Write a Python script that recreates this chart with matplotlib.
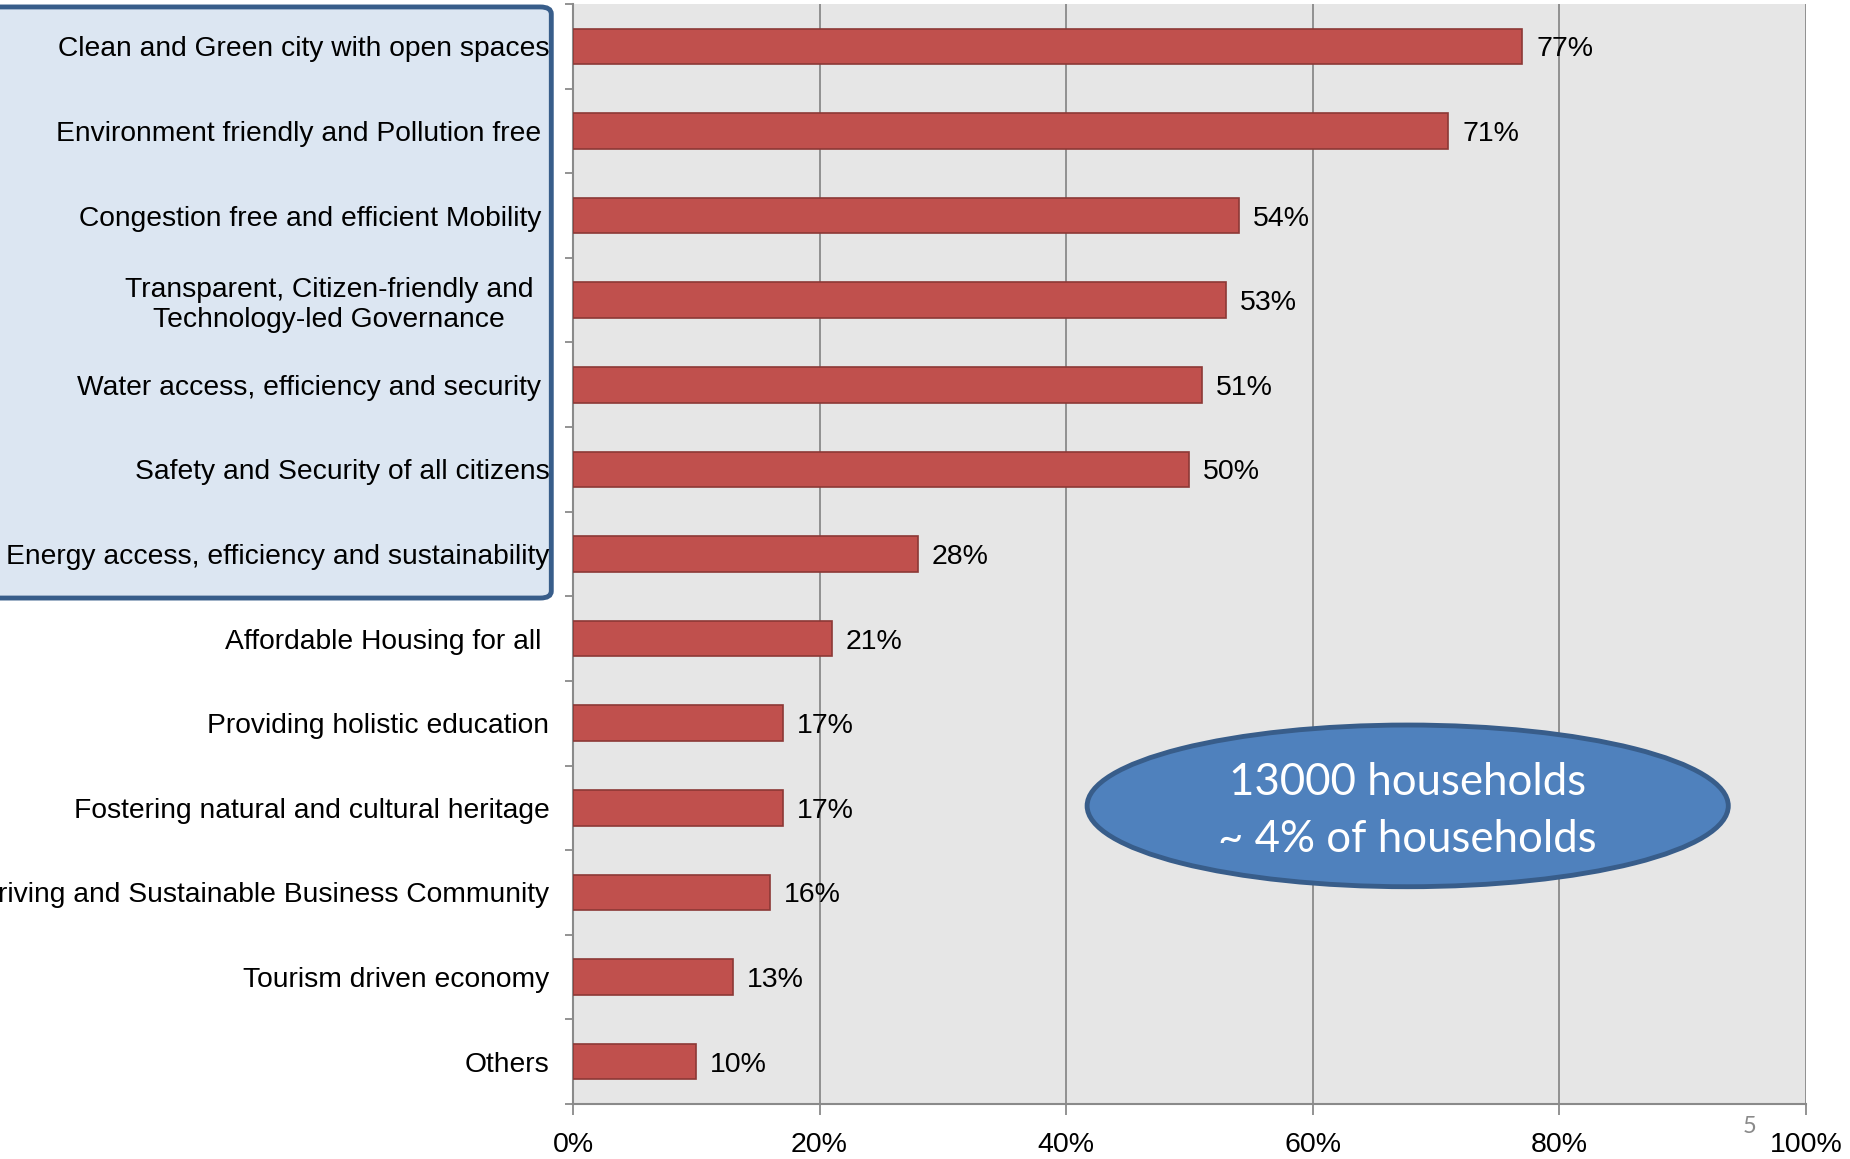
import numpy as np
import matplotlib
matplotlib.use('Agg')
import matplotlib.pyplot as plt
from matplotlib.patches import Ellipse, FancyBboxPatch

plt.rcParams['font.family'] = ['Liberation Sans', 'DejaVu Sans']

categories = ['Clean and Green city with open spaces',
              'Environment friendly and Pollution free ',
              'Congestion free and efficient Mobility ',
              'Transparent, Citizen-friendly and  \nTechnology-led Governance  ',
              'Water access, efficiency and security ',
              'Safety and Security of all citizens',
              'Energy access, efficiency and sustainability',
              'Affordable Housing for all ',
              'Providing holistic education',
              'Fostering natural and cultural heritage',
              'Thriving and Sustainable Business Community',
              'Tourism driven economy',
              'Others']
values = [77, 71, 54, 53, 51, 50, 28, 21, 17, 17, 16, 13, 10]
xticks = [0, 20, 40, 60, 80, 100]
note_lines = ['13000 households', '~ 4% of households']

bar_color = '#C0504D'
bar_edge = '#8C3836'
grid_color = '#8A8A8A'

fig = plt.figure(figsize=(18.5, 11.59), dpi=100)
ax = fig.add_axes([0.3097, 0.0475, 0.6665, 0.949])
ax.set_facecolor('#E6E6E6')

n = len(categories)
ypos = np.arange(n)
ax.barh(ypos, values, height=0.42, color=bar_color, edgecolor=bar_edge, linewidth=1.2, zorder=3)
ax.set_xlim(0, 100)
ax.set_ylim(n - 0.5, -0.5)

for y, v in zip(ypos, values):
    ax.annotate('%d%%' % v, (v, y), xytext=(10, 0), textcoords='offset points',
                va='center_baseline', ha='left', fontsize=20.5, color='black', zorder=4)

ax.set_xticks(xticks)
ax.set_xticklabels(['%d%%' % t for t in xticks], fontsize=20.5)
ax.xaxis.grid(True, color=grid_color, linewidth=1.3, zorder=1)
ax.set_axisbelow(True)

# category labels on minor ticks, boundary ticks on major
ax.set_yticks(np.arange(n + 1) - 0.5)
ax.set_yticklabels([])
ax.set_yticks(ypos, minor=True)
ax.set_yticklabels(categories, minor=True, fontsize=20.3)
for lbl in ax.get_yticklabels(minor=True):
    lbl.set_multialignment('center')
ax.tick_params(axis='y', which='minor', length=0, pad=17)
ax.tick_params(axis='y', which='major', length=6, color=grid_color, width=1.3)
ax.tick_params(axis='x', length=8, color=grid_color, width=1.3, pad=12)

for s in ['top', 'right']:
    ax.spines[s].set_visible(False)
for s in ['left', 'bottom']:
    ax.spines[s].set_color(grid_color)
    ax.spines[s].set_linewidth(1.5)

# highlight box behind the top seven labels
box = FancyBboxPatch((-0.02, 0.484), 0.318, 0.51, boxstyle='round,pad=0,rounding_size=0.006',
                     transform=fig.transFigure, facecolor='#DCE6F2', edgecolor='#385D8A',
                     linewidth=3.5, zorder=-1)
fig.patches.append(box)

# ellipse note
ell = Ellipse((0.677, 0.271), 0.52, 0.147, transform=ax.transAxes,
              facecolor='#4F81BD', edgecolor='#385D8A', linewidth=3.5, zorder=5)
ax.add_patch(ell)
ax.text(0.677, 0.2665, '\n'.join(note_lines), transform=ax.transAxes, ha='center', va='center',
        multialignment='center', fontsize=31.5, color='white', family=['Lato', 'DejaVu Sans'],
        linespacing=1.5, zorder=6)

fig.text(0.9455, 0.028, '5', fontsize=17, color='#8A8A8A', ha='center', va='center',
         family=['Lato', 'DejaVu Sans'])

fig.savefig('out.png', dpi=100)
